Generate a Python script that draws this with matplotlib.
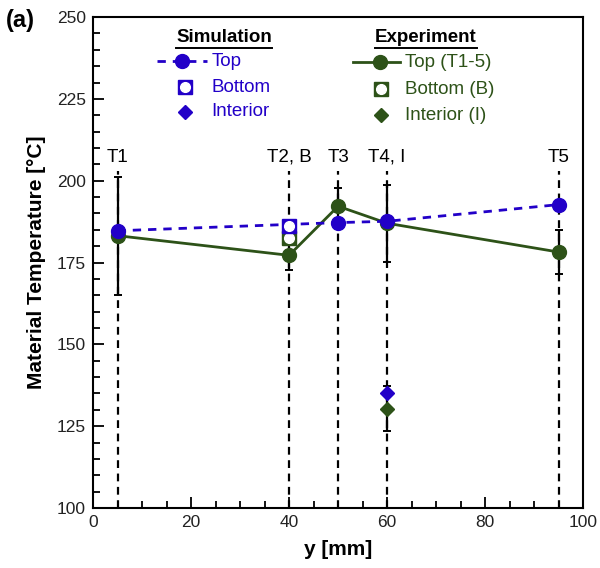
import numpy as np
import matplotlib
matplotlib.use('Agg')
import matplotlib.pyplot as plt
from matplotlib.ticker import MultipleLocator

plt.rcParams['font.family'] = ['Liberation Sans', 'DejaVu Sans']

BLUE = '#2200c8'
GREEN = '#2d5218'

# Положения термопар
probe_x = [5, 40, 50, 60, 95]
probe_labels = ['T1', 'T2, B', 'T3', 'T4, I', 'T5']

# Моделирование
sim_top_x = [5, 50, 60, 95]
sim_top_y = [184.7, 187.2, 187.6, 192.7]
sim_bottom_x = [40]
sim_bottom_y = [186.2]
sim_int_x = [60]
sim_int_y = [135.0]

# Эксперимент
exp_top_x = [5, 40, 50, 60, 95]
exp_top_y = [183.2, 177.2, 192.2, 187.0, 178.2]
exp_top_err = [18.0, 4.5, 5.5, 11.8, 6.6]
exp_bottom_x = [40]
exp_bottom_y = [182.5]
exp_int_x = [60]
exp_int_y = [130.3]
exp_int_err = [6.9]

FS = 13.5

fig = plt.figure(figsize=(6, 5.68), dpi=100)
ax = fig.add_axes([0.155, 0.1056, 0.817, 0.8644])

# Вертикальные пунктирные линии термопар
for x, lab in zip(probe_x, probe_labels):
    ax.plot([x, x], [100, 203], color='black', lw=1.6, ls=(0, (3.5, 2.5)), zorder=1)
    ax.text(x, 204.5, lab, ha='center', va='bottom', fontsize=FS)

# Погрешности эксперимента
ax.errorbar(exp_top_x, exp_top_y, yerr=exp_top_err, fmt='none', ecolor='black',
            elinewidth=1.6, capsize=3, capthick=1.4, zorder=2)
ax.errorbar(exp_int_x, exp_int_y, yerr=exp_int_err, fmt='none', ecolor='black',
            elinewidth=1.6, capsize=3, capthick=1.4, zorder=2)

# Эксперимент
ax.plot(exp_top_x, exp_top_y, '-o', color=GREEN, lw=2, ms=10, zorder=3)
ax.plot(exp_bottom_x, exp_bottom_y, 's', color=GREEN, ms=9.5, zorder=3)
ax.plot(exp_bottom_x, exp_bottom_y, 'o', color='white', ms=7, zorder=3)
ax.plot(exp_int_x, exp_int_y, 'D', color=GREEN, ms=7, zorder=3)

# Моделирование
ax.plot(sim_top_x, sim_top_y, '--o', color=BLUE, lw=2, ms=10, dashes=(3, 2.5), zorder=4)
ax.plot(sim_bottom_x, sim_bottom_y, 's', color=BLUE, ms=9.5, zorder=4)
ax.plot(sim_bottom_x, sim_bottom_y, 'o', color='white', ms=7, zorder=4)
ax.plot(sim_int_x, sim_int_y, 'D', color=BLUE, ms=7, zorder=4)

ax.set_xlim(0, 100)
ax.set_ylim(100, 250)
ax.xaxis.set_major_locator(MultipleLocator(20))
ax.xaxis.set_minor_locator(MultipleLocator(5))
ax.yaxis.set_major_locator(MultipleLocator(25))
ax.yaxis.set_minor_locator(MultipleLocator(5))
ax.tick_params(which='both', direction='in', width=1.3, labelsize=12.5, pad=5,
               labelcolor='#222222')
ax.tick_params(which='major', length=8)
ax.tick_params(which='minor', length=5)
for s in ax.spines.values():
    s.set_linewidth(1.5)

ax.set_xlabel('y [mm]', fontsize=15, fontweight='bold', labelpad=7)
ax.set_ylabel('Material Temperature [°C]', fontsize=15, fontweight='bold', labelpad=8)
fig.text(0.01, 0.985, '(a)', fontsize=17, fontweight='bold', va='top')

# Легенда вручную
T = ax.transAxes
ax.text(0.267, 0.959, 'Simulation', transform=T, ha='center', va='center',
        fontsize=FS, fontweight='bold')
ax.plot([0.169, 0.365], [0.937, 0.937], transform=T, color='black', lw=1.4, clip_on=False)
ax.plot([0.131, 0.233], [0.910, 0.910], transform=T, color=BLUE, lw=2, dashes=(3, 2.5))
ax.plot([0.182], [0.910], 'o', transform=T, color=BLUE, ms=10)
ax.text(0.241, 0.910, 'Top', transform=T, va='center', fontsize=FS, color=BLUE)
ax.plot([0.188], [0.857], 's', transform=T, color=BLUE, ms=9.5)
ax.plot([0.188], [0.857], 'o', transform=T, color='white', ms=7)
ax.text(0.241, 0.857, 'Bottom', transform=T, va='center', fontsize=FS, color=BLUE)
ax.plot([0.188], [0.807], 'D', transform=T, color=BLUE, ms=7)
ax.text(0.241, 0.807, 'Interior', transform=T, va='center', fontsize=FS, color=BLUE)

ax.text(0.678, 0.959, 'Experiment', transform=T, ha='center', va='center',
        fontsize=FS, fontweight='bold')
ax.plot([0.576, 0.784], [0.937, 0.937], transform=T, color='black', lw=1.4, clip_on=False)
ax.plot([0.531, 0.627], [0.908, 0.908], transform=T, color=GREEN, lw=2)
ax.plot([0.586], [0.908], 'o', transform=T, color=GREEN, ms=10)
ax.text(0.637, 0.908, 'Top (T1-5)', transform=T, va='center', fontsize=FS, color=GREEN)
ax.plot([0.588], [0.853], 's', transform=T, color=GREEN, ms=9.5)
ax.plot([0.588], [0.853], 'o', transform=T, color='white', ms=7)
ax.text(0.637, 0.853, 'Bottom (B)', transform=T, va='center', fontsize=FS, color=GREEN)
ax.plot([0.588], [0.800], 'D', transform=T, color=GREEN, ms=7)
ax.text(0.637, 0.800, 'Interior (I)', transform=T, va='center', fontsize=FS, color=GREEN)

fig.savefig('out.png', dpi=100)
